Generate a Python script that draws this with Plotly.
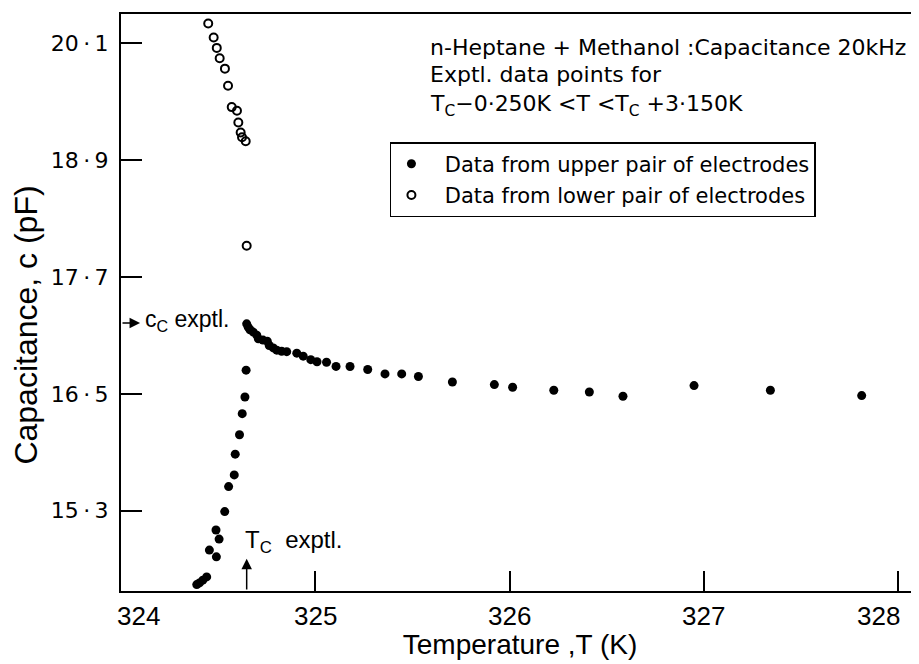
import plotly.graph_objects as go

# ---- data ----
# Data from upper pair of electrodes (filled dots)
upper_T = [324.390, 324.404, 324.421, 324.441, 324.455, 324.491, 324.489, 324.505,
           324.534, 324.554, 324.583, 324.588, 324.610, 324.624, 324.638, 324.644,
           324.647, 324.655, 324.664, 324.681, 324.699, 324.707, 324.731, 324.753,
           324.763, 324.784, 324.802, 324.827, 324.853, 324.905, 324.938, 324.977,
           325.009, 325.058, 325.107, 325.179, 325.270, 325.359, 325.445, 325.531,
           325.706, 325.922, 326.016, 326.228, 326.411, 326.584, 326.950, 327.343,
           327.813]
upper_C = [14.542, 14.559, 14.587, 14.621, 14.896, 14.827, 15.102, 15.009,
           15.291, 15.548, 15.668, 15.881, 16.080, 16.297, 16.468, 16.743,
           17.219, 17.185, 17.158, 17.134, 17.103, 17.065, 17.052, 17.041,
           16.997, 16.972, 16.949, 16.938, 16.933, 16.918, 16.887, 16.851,
           16.830, 16.825, 16.782, 16.781, 16.750, 16.705, 16.705, 16.678,
           16.622, 16.595, 16.568, 16.537, 16.519, 16.475, 16.585, 16.537,
           16.482]

# Data from lower pair of electrodes (open circles)
lower_T = [324.449, 324.477, 324.493, 324.508, 324.535, 324.551, 324.570,
           324.597, 324.604, 324.616, 324.623, 324.642, 324.647]
lower_C = [20.303, 20.159, 20.052, 19.946, 19.839, 19.664, 19.444,
           19.407, 19.286, 19.183, 19.135, 19.094, 18.020]

x_ticks = [324, 325, 326, 327, 328]
x_ticktext = ["324", "325", "326", "327", "328"]
y_ticks = [15.3, 16.5, 17.7, 18.9, 20.1]
y_ticktext = ["15\u2009·\u20093", "16\u2009·\u20095", "17\u2009·\u20097", "18\u2009·\u20099", "20\u2009·\u20091"]

Tc_exptl = 324.647
Cc_exptl = 17.227

x_range = [324.0, 328.108]
y_range = [14.476, 20.40]

GEO = "DejaVu Sans, Noto Sans, sans-serif"
HELV = "Liberation Sans, Arial, sans-serif"

fig = go.Figure()
fig.add_trace(go.Scatter(
    x=upper_T, y=upper_C, mode="markers",
    name="\u00a0\u00a0Data from upper pair of electrodes",
    legendgroup="u",
    marker=dict(symbol="circle", size=9, color="black"),
))
fig.add_trace(go.Scatter(
    x=lower_T, y=lower_C, mode="markers",
    name="\u00a0\u00a0Data from lower pair of electrodes",
    legendgroup="l",
    marker=dict(symbol="circle-open", size=8, color="black", line=dict(width=2, color="black")),
))

fig.update_xaxes(
    range=x_range, tickvals=x_ticks, ticktext=x_ticktext,
    ticks="inside", ticklen=20, tickwidth=1.5, tickcolor="black",
    showline=True, linecolor="black", linewidth=2, mirror=True,
    showgrid=False, zeroline=False, showticklabels=False,
    title=dict(text="Temperature ,T (K)", font=dict(family=HELV, size=28, color="black"), standoff=42),
)
fig.update_yaxes(
    range=y_range, tickvals=y_ticks, ticktext=y_ticktext,
    ticks="inside", ticklen=21, tickwidth=1.5, tickcolor="black",
    showline=True, linecolor="black", linewidth=2, mirror=False,
    showgrid=False, zeroline=False,
    tickfont=dict(family=GEO, size=22, color="black"),
    ticklabelstandoff=6,
)

ann = []
# x tick labels (hand-lettered in the original: the end labels sit inside the frame)
label_shift = {324: 17, 328: -20}
for v, t in zip(x_ticks, x_ticktext):
    ann.append(dict(x=v, y=0, xref="x", yref="paper", xanchor="center", yanchor="middle",
                    yshift=-25, xshift=label_shift.get(v, 0), text=t, showarrow=False,
                    font=dict(family=HELV, size=26, color="black")))
# c_C exptl. arrow from the axis
ann.append(dict(x=324.098, y=Cc_exptl, ax=324.0, ay=Cc_exptl, xref="x", yref="y",
                axref="x", ayref="y", text="", showarrow=True, arrowhead=2,
                arrowsize=1.4, arrowwidth=1.5, arrowcolor="black"))
ann.append(dict(x=324.113, y=Cc_exptl + 0.03, xref="x", yref="y", xanchor="left", yanchor="middle",
                text="c<sub>C</sub> exptl.", showarrow=False,
                font=dict(family=HELV, size=23, color="black")))
# T_C exptl. arrow from the bottom axis
ann.append(dict(x=Tc_exptl, y=14.807, ax=Tc_exptl, ay=y_range[0], xref="x", yref="y",
                axref="x", ayref="y", text="", showarrow=True, arrowhead=2,
                arrowsize=1.4, arrowwidth=1.5, arrowcolor="black"))
ann.append(dict(x=324.628, y=14.982, xref="x", yref="y", xanchor="left", yanchor="middle",
                text="T<sub>C</sub>  exptl.", showarrow=False,
                font=dict(family=HELV, size=24, color="black")))
# description block
block = [
    ("n-Heptane + Methanol :Capacitance 20kHz", 0.9428),
    ("Exptl. data points for", 0.8943),
    ("T<sub>C</sub>−0·250K &lt;T &lt;T<sub>C</sub> +3·150K", 0.8420),
]
for txt, yy in block:
    ann.append(dict(x=0.3847, y=yy, xref="paper", yref="paper", xanchor="left", yanchor="middle",
                    text=txt, showarrow=False, font=dict(family=GEO, size=22, color="black")))
# y axis title
ann.append(dict(x=-0.119, y=0.46, xref="paper", yref="paper", xanchor="center", yanchor="middle",
                text="Capacitance, c (pF)", textangle=-90, showarrow=False,
                font=dict(family=HELV, size=32, color="black")))

fig.update_layout(
    width=911, height=656,
    margin=dict(l=113, r=0, t=6, b=73),
    plot_bgcolor="white", paper_bgcolor="white",
    showlegend=True,
    legend=dict(x=0.337, y=0.778, xanchor="left", yanchor="top",
                bgcolor="white", bordercolor="black", borderwidth=1.5,
                font=dict(family=GEO, size=21, color="black"),
                itemwidth=30, tracegroupgap=1),
    annotations=ann,
)

fig.write_html("out.html")
